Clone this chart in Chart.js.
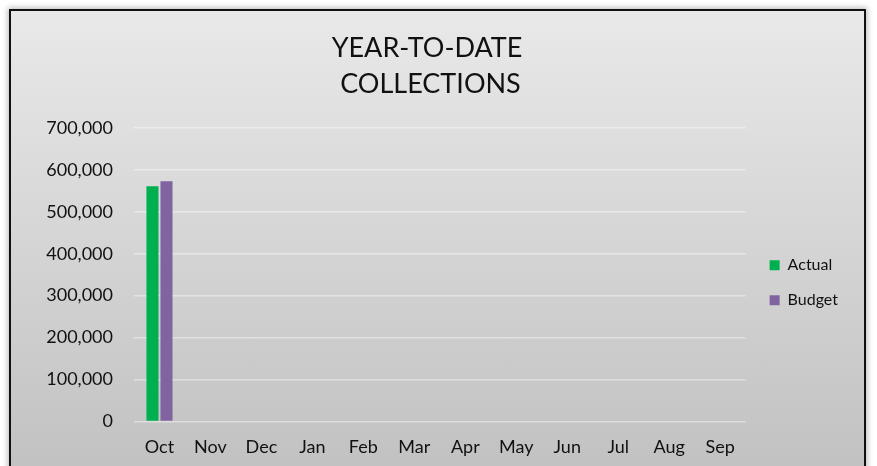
<!DOCTYPE html>
<html>
<head>
<meta charset="utf-8">
<script src="https://cdn.jsdelivr.net/npm/chart.js@4.4.1/dist/chart.umd.min.js"></script>
<style>
  html, body { margin: 0; padding: 0; background: #fff; overflow: hidden; }
  #frame {
    position: absolute;
    left: 9px; top: 9px;
    width: 857px; height: 467px;
    box-sizing: border-box;
    border: 2px solid #111;
    background: linear-gradient(#e9e9e9, #c1c1c1);
    box-shadow: 0 0 6px 1px rgba(0, 0, 0, 0.3);
  }
  #wrap { position: relative; width: 853px; height: 463px; }
</style>
</head>
<body>
<div id="frame"><div id="wrap"><canvas id="ytdChart"></canvas></div></div>
<script>
// --- chart data ---
const months = ['Oct', 'Nov', 'Dec', 'Jan', 'Feb', 'Mar', 'Apr', 'May', 'Jun', 'Jul', 'Aug', 'Sep'];
const actual = [561000, null, null, null, null, null, null, null, null, null, null, null];
const budget = [573000, null, null, null, null, null, null, null, null, null, null, null];
const titleLines = ['YEAR-TO-DATE', ' COLLECTIONS'];

const FONT = "'Lato', sans-serif";

// push the legend block a little right/down from where the layout puts it
const legendNudge = {
  id: 'legendNudge',
  afterLayout(chart) {
    const lg = chart.legend;
    if (!lg) return;
    const dx = 5, dy = 8;
    lg.left += dx; lg.right += dx;
    lg.top += dy; lg.bottom += dy;
  }
};

new Chart(document.getElementById('ytdChart'), {
  type: 'bar',
  data: {
    labels: months,
    datasets: [
      { label: 'Actual', data: actual, backgroundColor: '#00b050' },
      { label: 'Budget', data: budget, backgroundColor: '#8064a2' }
    ]
  },
  options: {
    responsive: true,
    maintainAspectRatio: false,
    animation: false,
    datasets: { bar: { categoryPercentage: 0.55, barPercentage: 0.86 } },
    layout: { padding: { left: 0, right: 21, top: 0, bottom: 1 } },
    plugins: {
      title: {
        display: true,
        text: titleLines,
        color: '#111',
        font: { family: FONT, size: 27, weight: 'normal', lineHeight: '36px' },
        padding: { top: 19, bottom: 26 }
      },
      legend: {
        position: 'right',
        fullSize: false,
        labels: {
          color: '#111',
          font: { family: FONT, size: 16 },
          boxWidth: 10,
          boxHeight: 10,
          padding: 19
        }
      },
      tooltip: { enabled: false }
    },
    scales: {
      x: {
        grid: { display: false, drawTicks: false },
        border: { display: false },
        ticks: { color: '#111', font: { family: FONT, size: 18 }, padding: 15, maxRotation: 0 }
      },
      y: {
        min: 0,
        max: 700000,
        afterFit: (scale) => { scale.width = 123; },
        grid: { color: 'rgba(255,255,255,0.42)', lineWidth: 1.5, drawTicks: false },
        border: { display: false },
        ticks: {
          stepSize: 100000,
          padding: 21,
          color: '#111',
          font: { family: FONT, size: 18 },
          callback: (v) => v.toLocaleString('en-US')
        }
      }
    }
  },
  plugins: [legendNudge]
});
</script>
</body>
</html>
